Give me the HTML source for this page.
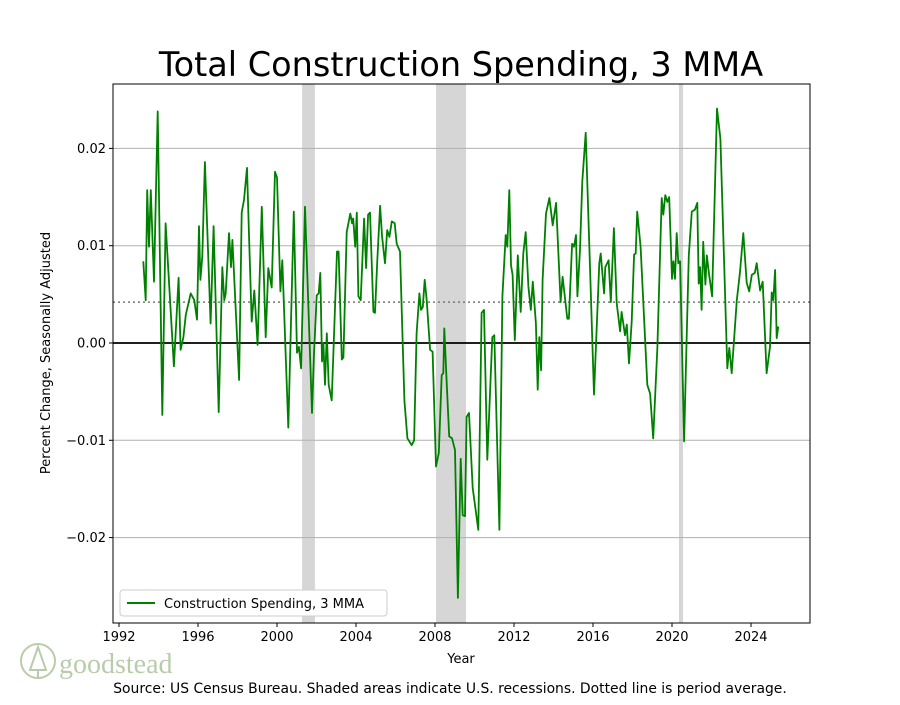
<!DOCTYPE html>
<html><head><meta charset="utf-8">
<style>
body{margin:0;background:#fff;font-family:"Liberation Sans","DejaVu Sans",sans-serif;}
svg text{font-family:"DejaVu Sans","Liberation Sans",sans-serif;}
</style></head>
<body>
<svg id="chart" width="900" height="700" viewBox="0 0 900 700">
<rect width="900" height="700" fill="#fff"/>
<text x="461" y="76" font-size="33.5" text-anchor="middle" fill="#000">Total Construction Spending, 3 MMA</text>
<g id="recess"></g>
<g id="grid"></g>
<g id="series"></g>
<rect x="113" y="84" width="697" height="539" fill="none" stroke="#000" stroke-width="1"/>
<g id="xaxis"></g>
<g id="yaxis"></g>
<text x="0" y="0" transform="translate(50,353) rotate(-90)" font-size="13" text-anchor="middle">Percent Change, Seasonally Adjusted</text>
<text x="461" y="663" font-size="13" text-anchor="middle">Year</text>
<g>
<rect x="120" y="590" width="267" height="26" rx="3" fill="#fff" stroke="#ccc"/>
<line x1="127" y1="603" x2="155" y2="603" stroke="#008000" stroke-width="2"/>
<text x="164" y="608" font-size="13">Construction Spending, 3 MMA</text>
</g>
<g opacity="0.55">
<circle cx="38" cy="661" r="17" fill="none" stroke="#7fa46a" stroke-width="2"/>
<path d="M38 647 L30 670 L46 670 Z M38 670 L38 677" fill="none" stroke="#7fa46a" stroke-width="2"/>
<text x="59" y="673" font-size="28" fill="#7fa46a" style="font-family:'Liberation Serif',serif">goodstead</text>
</g>
<text x="450" y="693" font-size="13.9" text-anchor="middle">Source: US Census Bureau. Shaded areas indicate U.S. recessions. Dotted line is period average.</text>
</svg>
<script>
const years=[1993.23,1993.35,1993.43,1993.52,1993.61,1993.77,1993.96,1994.19,1994.36,1994.78,1995.02,1995.12,1995.26,1995.38,1995.63,1995.81,1995.95,1996.05,1996.12,1996.22,1996.35,1996.64,1996.79,1997.05,1997.23,1997.33,1997.40,1997.57,1997.67,1997.74,1998.08,1998.21,1998.33,1998.48,1998.58,1998.72,1998.85,1999.02,1999.23,1999.43,1999.56,1999.73,1999.90,2000.00,2000.17,2000.27,2000.57,2000.85,2001.01,2001.11,2001.22,2001.42,2001.77,2001.87,2002.01,2002.11,2002.19,2002.28,2002.35,2002.43,2002.52,2002.62,2002.77,2003.04,2003.12,2003.28,2003.36,2003.53,2003.71,2003.80,2003.86,2003.96,2004.04,2004.12,2004.24,2004.41,2004.51,2004.61,2004.71,2004.88,2004.96,2005.08,2005.22,2005.32,2005.47,2005.58,2005.69,2005.81,2005.96,2006.06,2006.23,2006.45,2006.60,2006.82,2006.94,2007.07,2007.21,2007.29,2007.38,2007.48,2007.58,2007.75,2007.88,2008.05,2008.19,2008.34,2008.42,2008.47,2008.59,2008.72,2008.86,2009.01,2009.16,2009.30,2009.40,2009.52,2009.60,2009.72,2009.91,2010.19,2010.36,2010.48,2010.65,2010.90,2011.00,2011.26,2011.41,2011.58,2011.66,2011.76,2011.85,2011.93,2012.04,2012.19,2012.34,2012.47,2012.59,2012.73,2012.85,2012.95,2013.11,2013.20,2013.28,2013.37,2013.45,2013.62,2013.79,2013.96,2014.13,2014.36,2014.46,2014.70,2014.78,2014.94,2015.04,2015.14,2015.21,2015.34,2015.46,2015.63,2015.85,2016.05,2016.32,2016.39,2016.56,2016.62,2016.79,2016.90,2017.06,2017.20,2017.37,2017.45,2017.62,2017.71,2017.82,2017.96,2018.08,2018.16,2018.24,2018.41,2018.75,2018.89,2019.05,2019.26,2019.48,2019.56,2019.66,2019.76,2019.86,2020.00,2020.07,2020.15,2020.24,2020.32,2020.41,2020.61,2020.74,2020.85,2021.00,2021.16,2021.28,2021.35,2021.42,2021.50,2021.58,2021.69,2021.76,2021.87,2022.03,2022.28,2022.45,2022.80,2022.90,2023.02,2023.28,2023.44,2023.61,2023.78,2023.91,2024.04,2024.19,2024.29,2024.46,2024.59,2024.79,2024.96,2025.05,2025.13,2025.22,2025.30,2025.38];
const values=[0.0084,0.0044,0.0157,0.0099,0.0157,0.0063,0.0238,-0.0074,0.0123,-0.0024,0.0067,-0.0007,0.0006,0.0029,0.0051,0.0044,0.0024,0.0120,0.0065,0.0089,0.0186,0.0020,0.0120,-0.0071,0.0078,0.0044,0.0051,0.0113,0.0078,0.0106,-0.0038,0.0134,0.0147,0.0180,0.0111,0.0022,0.0054,-0.0002,0.0140,0.0006,0.0077,0.0057,0.0176,0.0170,0.0053,0.0085,-0.0087,0.0135,-0.0010,-0.0004,-0.0026,0.0140,-0.0072,-0.0014,0.0049,0.0051,0.0072,-0.0019,0.0000,-0.0043,0.0010,-0.0043,-0.0059,0.0094,0.0094,-0.0017,-0.0015,0.0114,0.0133,0.0123,0.0128,0.0099,0.0134,0.0048,0.0044,0.0128,0.0077,0.0132,0.0134,0.0032,0.0031,0.0085,0.0141,0.0109,0.0082,0.0116,0.0109,0.0125,0.0123,0.0102,0.0094,-0.0059,-0.0098,-0.0105,-0.0100,0.0010,0.0051,0.0034,0.0037,0.0065,0.0044,-0.0007,-0.0009,-0.0127,-0.0113,-0.0033,-0.0031,0.0015,-0.0041,-0.0096,-0.0098,-0.0110,-0.0262,-0.0119,-0.0177,-0.0178,-0.0076,-0.0072,-0.0149,-0.0192,0.0031,0.0034,-0.0120,0.0006,0.0008,-0.0192,0.0048,0.0111,0.0099,0.0157,0.0080,0.0070,0.0003,0.0090,0.0032,0.0092,0.0114,0.0058,0.0034,0.0063,0.0020,-0.0048,0.0006,-0.0028,0.0065,0.0133,0.0149,0.0121,0.0144,0.0042,0.0068,0.0025,0.0025,0.0102,0.0099,0.0111,0.0048,0.0096,0.0166,0.0216,0.0078,-0.0053,0.0082,0.0092,0.0051,0.0078,0.0085,0.0042,0.0118,0.0041,0.0012,0.0032,0.0008,0.0019,-0.0021,0.0022,0.0091,0.0092,0.0135,0.0099,-0.0043,-0.0052,-0.0098,-0.0004,0.0149,0.0132,0.0152,0.0145,0.0150,0.0066,0.0084,0.0066,0.0113,0.0082,0.0084,-0.0101,0.0003,0.0090,0.0135,0.0137,0.0144,0.0061,0.0078,0.0034,0.0104,0.0060,0.0090,0.0072,0.0048,0.0241,0.0210,-0.0026,-0.0005,-0.0031,0.0044,0.0072,0.0113,0.0062,0.0053,0.0070,0.0072,0.0082,0.0054,0.0063,-0.0031,-0.0004,0.0052,0.0044,0.0075,0.0005,0.0017];
const avgValue=0.0042;
const recessionStarts=[2001.27,2008.05,2020.35];
const recessionEnds=[2001.92,2009.57,2020.56];
const xTicks=[1992,1996,2000,2004,2008,2012,2016,2020,2024];
const yTicks=[-0.02,-0.01,0.00,0.01,0.02];
const yTickLabels=["\u22120.02","\u22120.01","0.00","0.01","0.02"];

const L=113,R=810,T=84,B=623;
const X0=1991.696,X1=2026.987,Y0=-0.02878,Y1=0.02662;
function sx(v){return L+(v-X0)/(X1-X0)*(R-L);}
function sy(v){return B-(v-Y0)/(Y1-Y0)*(B-T);}
const NS="http://www.w3.org/2000/svg";
function mk(tag,attrs,parent){const e=document.createElementNS(NS,tag);for(const k in attrs)e.setAttribute(k,attrs[k]);document.getElementById(parent).appendChild(e);return e;}

recessionStarts.forEach((s,i)=>{
  const r=mk('rect',{x:sx(s),y:T,width:sx(recessionEnds[i])-sx(s),height:B-T,fill:'#d6d6d6'},'recess');
  
  
});
yTicks.forEach((v,i)=>{
  const g=mk('line',{x1:L,x2:R,y1:sy(v),y2:sy(v),stroke:'#b0b0b0','stroke-width':1},'grid');
  
  
  const t=mk('line',{x1:L-4,x2:L,y1:sy(v),y2:sy(v),stroke:'#000'},'yaxis');
  
  
  const lb=mk('text',{x:L-7,y:sy(v)+4.5,'font-size':13,'text-anchor':'end'},'yaxis');
  lb.textContent=yTickLabels[i];
  
  
});
xTicks.forEach(v=>{
  const t=mk('line',{x1:sx(v),x2:sx(v),y1:B,y2:B+4,stroke:'#000'},'xaxis');
  
  
  const lb=mk('text',{x:sx(v),y:B+18,'font-size':13,'text-anchor':'middle'},'xaxis');
  lb.textContent=v;
  
  
});
const avg=mk('line',{x1:L,x2:R,y1:sy(avgValue),y2:sy(avgValue),stroke:'#777','stroke-width':1.5,'stroke-dasharray':'2,3'},'series');


const zero=mk('line',{x1:L,x2:R,y1:sy(0),y2:sy(0),stroke:'#000','stroke-width':1.8},'series');


const d=years.map((y,i)=>(i?'L':'M')+sx(y).toFixed(1)+' '+sy(values[i]).toFixed(1)).join(' ');
const p=mk('path',{d:d,fill:'none',stroke:'#008000','stroke-width':1.8,'stroke-linejoin':'round'},'series');


</script>
</body></html>
